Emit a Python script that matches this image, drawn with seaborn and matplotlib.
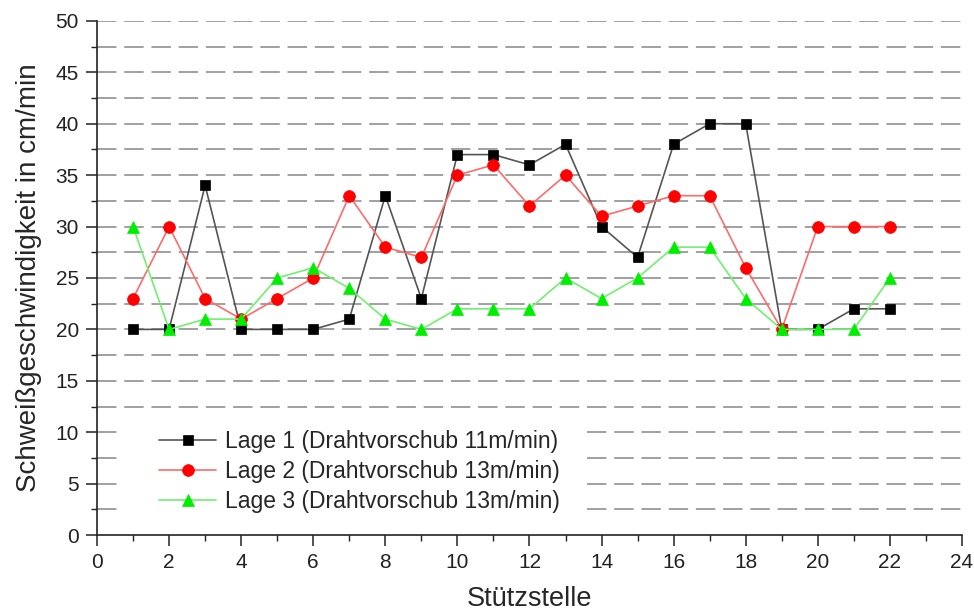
#!/usr/bin/env python3
"""Welding speed per support point for three weld layers."""

import matplotlib
matplotlib.use("Agg")
import matplotlib.pyplot as plt
from matplotlib.patches import Rectangle
from matplotlib.ticker import MultipleLocator
import pandas as pd
import seaborn as sns


STUETZSTELLE = list(range(1, 23))
LAGE_1 = [20, 20, 34, 20, 20, 20, 21, 33, 23, 37, 37, 36, 38, 30, 27, 38, 40, 40, 20, 20, 22, 22]
LAGE_2 = [23, 30, 23, 21, 23, 25, 33, 28, 27, 35, 36, 32, 35, 31, 32, 33, 33, 26, 20, 30, 30, 30]
LAGE_3 = [30, 20, 21, 21, 25, 26, 24, 21, 20, 22, 22, 22, 25, 23, 25, 28, 28, 23, 20, 20, 20, 25]

LABELS = [
    "Lage 1 (Drahtvorschub 11m/min)",
    "Lage 2 (Drahtvorschub 13m/min)",
    "Lage 3 (Drahtvorschub 13m/min)",
]

# (marker colour, line colour, marker, size)
STYLES = [
    ("#000000", "#555555", "s", 7.5),
    ("#ff0000", "#ff6a6a", "o", 8.5),
    ("#00ee00", "#70f070", "^", 9.0),
]


def main() -> None:
    sns.set_theme(style="white")
    plt.rcParams["font.family"] = ["Liberation Sans", "DejaVu Sans"]

    fig = plt.figure(figsize=(9.74, 6.15), dpi=100)
    ax = fig.add_axes([0.0996, 0.130, 0.888, 0.836])

    for values, (mcol, lcol, marker, ms) in zip([LAGE_1, LAGE_2, LAGE_3], STYLES):
        df = pd.DataFrame({"x": STUETZSTELLE, "y": values})
        sns.lineplot(
            data=df, x="x", y="y", ax=ax, errorbar=None,
            color=lcol, linewidth=1.2, marker=marker, markersize=ms,
            markerfacecolor=mcol, markeredgecolor=mcol, markeredgewidth=0.5,
            zorder=3,
        )
    data_lines = list(ax.lines[:3])

    ax.set_xlim(0, 24)
    ax.set_ylim(0, 50)
    ax.xaxis.set_major_locator(MultipleLocator(2))
    ax.xaxis.set_minor_locator(MultipleLocator(1))
    ax.yaxis.set_major_locator(MultipleLocator(5))
    ax.yaxis.set_minor_locator(MultipleLocator(2.5))

    ax.grid(False)
    for yv in [2.5 * i for i in range(1, 21)]:
        ax.axhline(yv, color="#a0a0a0", linewidth=1.4, linestyle=(0, (10, 4)), zorder=1)

    # white patch behind the legend hides the grid there
    ax.add_patch(Rectangle((0.64, 1.95), 12.95, 9.45, facecolor="white",
                           edgecolor="none", zorder=2))

    for side in ("top", "right"):
        ax.spines[side].set_visible(False)
    for side in ("left", "bottom"):
        ax.spines[side].set_color("#222222")
        ax.spines[side].set_linewidth(1.2)

    ax.tick_params(which="major", direction="out", length=8, width=1.1,
                   colors="#222222", labelsize=15, left=True, bottom=True, pad=5)
    ax.tick_params(which="minor", direction="out", length=4, width=1.0,
                   colors="#222222", left=True, bottom=True)

    ax.set_xlabel("Stützstelle", fontsize=19.5, labelpad=10)
    ax.set_ylabel("Schweißgeschwindigkeit in cm/min", fontsize=20, labelpad=10)

    ax.legend(
        data_lines, LABELS,
        loc="upper left", bbox_to_anchor=(0.061, 0.222), borderaxespad=0,
        fontsize=16.5, frameon=False, handlelength=2.5, handletextpad=0.4,
        labelspacing=0.31,
    )

    fig.savefig("out.png", dpi=100)


if __name__ == "__main__":
    main()
